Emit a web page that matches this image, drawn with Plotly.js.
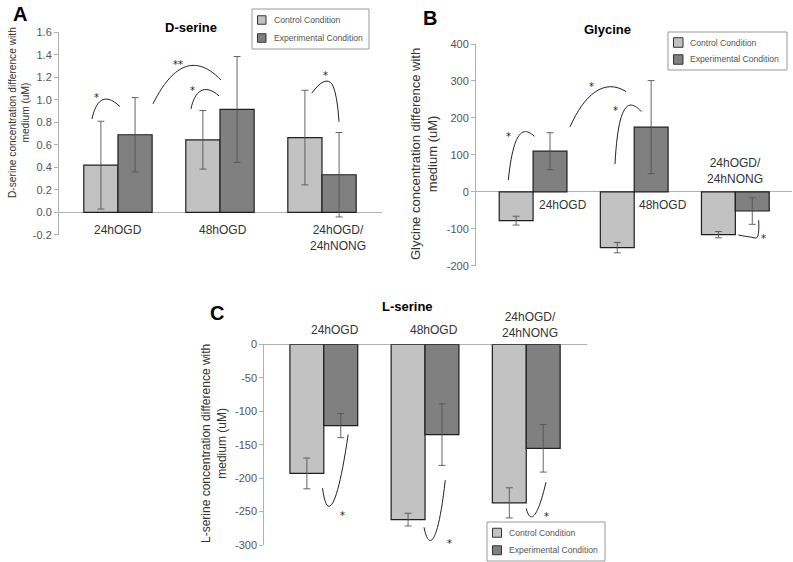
<!DOCTYPE html>
<html>
<head>
<meta charset="utf-8">
<script src="https://cdn.plot.ly/plotly-3.0.1.min.js"></script>
<style>html,body{margin:0;padding:0;background:#fff;}#chart{width:793px;height:562px;}</style>
</head>
<body>
<div id="chart"></div>
<script>
// ---- data ----
const categories = ["24hOGD", "48hOGD", "24hOGD/<br>24hNONG"];
const seriesNames = ["Control Condition", "Experimental Condition"];

// Panel A: D-serine (uM)
const dSerineControl = [0.42, 0.645, 0.665];
const dSerineControlErr = [0.39, 0.26, 0.42];
const dSerineExp = [0.69, 0.915, 0.335];
const dSerineExpErr = [0.33, 0.47, 0.375];
const dTickVals = [-0.2, 0.0, 0.2, 0.4, 0.6, 0.8, 1.0, 1.2, 1.4, 1.6];
const dTickText = ["-0.2", "0.0", "0.2", "0.4", "0.6", "0.8", "1.0", "1.2", "1.4", "1.6"];

// Panel B: Glycine (uM)
const glyControl = [-78, -151, -116];
const glyControlErr = [12, 14, 8.5];
const glyExp = [110, 175, -52];
const glyExpErr = [50, 126, 36];
const gTickVals = [-200, -100, 0, 100, 200, 300, 400];
const gTickText = ["-200", "-100", "0", "100", "200", "300", "400"];

// Panel C: L-serine (uM)
const lSerControl = [-193, -262, -237];
const lSerControlErr = [23, 9.5, 22.5];
const lSerExp = [-121.5, -135, -155.5];
const lSerExpErr = [18, 46, 35.5];
const lTickVals = [-300, -250, -200, -150, -100, -50, 0];
const lTickText = ["-300", "-250", "-200", "-150", "-100", "-50", "0"];

// ---- styles ----
const ctrlColor = "#c2c2c2";
const expColor = "#808080";
const barLine = {color: "#1e1e1e", width: 1.2};
const errStyle = {color: "#555", thickness: 0.9, width: 3.5};
const axisGray = "#b0b0b0";
const font = "Liberation Sans, Arial, sans-serif";
const W = 793, H = 562;

function bar(name, y, err, color, xa, ya) {
  return {
    type: "bar", name: name, x: categories, y: y,
    marker: {color: color, line: barLine},
    error_y: Object.assign({type: "data", array: err, visible: true}, errStyle),
    xaxis: xa, yaxis: ya, showlegend: false, hoverinfo: "skip"
  };
}

const data = [
  bar(seriesNames[0], dSerineControl, dSerineControlErr, ctrlColor, "x", "y"),
  bar(seriesNames[1], dSerineExp, dSerineExpErr, expColor, "x", "y"),
  bar(seriesNames[0], glyControl, glyControlErr, ctrlColor, "x2", "y2"),
  bar(seriesNames[1], glyExp, glyExpErr, expColor, "x2", "y2"),
  bar(seriesNames[0], lSerControl, lSerControlErr, ctrlColor, "x3", "y3"),
  bar(seriesNames[1], lSerExp, lSerExpErr, expColor, "x3", "y3")
];

function xax(domain, range) {
  return {domain: domain, range: range, type: "category", showline: false, showgrid: false,
          zeroline: false, showticklabels: false, ticks: "", fixedrange: true};
}
function yax(domain, range, tv, tt, anchor) {
  return {domain: domain, range: range, anchor: anchor, tickvals: tv, ticktext: tt,
          showline: true, linecolor: axisGray, linewidth: 1, ticks: "outside", ticklen: 4,
          tickcolor: axisGray, showgrid: false, zeroline: true, zerolinecolor: axisGray,
          zerolinewidth: 1, tickfont: {size: 11, color: "#555", family: font}, fixedrange: true};
}

function ann(text, x, y, xref, yref, opts) {
  return Object.assign({text: text, x: x, y: y, xref: xref, yref: yref, showarrow: false,
    xanchor: "center", yanchor: "middle",
    font: {size: 12, color: "#333", family: font}}, opts || {});
}
const starFont = {size: 10, color: "#222", family: "DejaVu Sans, sans-serif"};
const pTitle = {size: 13, color: "#000", family: font};
const pLetter = {size: 20, color: "#000", family: font};

const annotations = [
  // panel letters
  ann("<b>A</b>", 20, 14, "paper", "paper", {font: pLetter}),
  ann("<b>B</b>", 430, 18, "paper", "paper", {font: pLetter}),
  ann("<b>C</b>", 217, 313, "paper", "paper", {font: pLetter}),
  // titles
  ann("<b>D-serine</b>", 191, 28, "paper", "paper", {font: pTitle}),
  ann("<b>Glycine</b>", 607, 29, "paper", "paper", {font: pTitle}),
  ann("<b>L-serine</b>", 407, 306, "paper", "paper", {font: pTitle}),
  // y axis titles
  ann("D-serine concentration difference with<br>medium (uM)", 19, 113, "paper", "paper",
      {textangle: -90, font: {size: 10.2, color: "#333", family: font}}),
  ann("Glycine concentration difference with<br>medium (uM)", 424, 154, "paper", "paper",
      {textangle: -90, font: {size: 13, color: "#333", family: font}}),
  ann("L-serine concentration difference with<br>medium (uM)", 214, 444, "paper", "paper",
      {textangle: -90, font: {size: 12, color: "#333", family: font}}),
  // category labels A
  ann(categories[0], 0, 0, "x", "y", {yanchor: "top", yshift: -9}),
  ann(categories[1], 1.03, 0, "x", "y", {yanchor: "top", yshift: -9}),
  ann(categories[2], 2.16, 0, "x", "y", {yanchor: "top", yshift: -9}),
  // category labels B
  ann(categories[0], 0.04, -36, "x2", "y2", {xanchor: "left"}),
  ann(categories[1], 1.03, -36, "x2", "y2", {xanchor: "left"}),
  ann(categories[2], 2.0, 57, "x2", "y2"),
  // category labels C (above the plot area)
  ann(categories[0], 0.11, 330, "x3", "paper"),
  ann(categories[1], 1.09, 330, "x3", "paper"),
  ann(categories[2], 2.04, 325, "x3", "paper"),
  // significance stars
  ann("*", -0.206, 1.02, "x", "y", {font: starFont}),
  ann("**", 0.588, 1.31, "x", "y", {font: starFont}),
  ann("*", 0.735, 1.08, "x", "y", {font: starFont}),
  ann("*", 2.03, 1.22, "x", "y", {font: starFont}),
  ann("*", -0.245, 150, "x2", "y2", {font: starFont}),
  ann("*", 0.58, 285, "x2", "y2", {font: starFont}),
  ann("*", 0.82, 219, "x2", "y2", {font: starFont}),
  ann("*", 2.28, -127, "x2", "y2", {font: starFont}),
  ann("*", 0.18, -256, "x3", "y3", {font: starFont}),
  ann("*", 1.24, -297, "x3", "y3", {font: starFont}),
  ann("*", 2.2, -258, "x3", "y3", {font: starFont})
];

function curve(path, xr, yr) {
  return {type: "path", path: path, xref: xr, yref: yr, line: {color: "#222", width: 1}};
}
const shapes = [
  curve("M -0.255,0.83 C -0.22,0.98 -0.14,1.08 0.02,0.94", "x", "y"),
  curve("M 0.343,0.964 C 0.5,1.25 0.72,1.45 1.01,1.176", "x", "y"),
  curve("M 0.716,0.92 C 0.75,1.08 0.85,1.15 0.99,1.035", "x", "y"),
  curve("M 1.90,1.06 Q 2.03,1.22 2.1,1.14 Q 2.15,1.05 2.167,0.805", "x", "y"),
  curve("M -0.245,32 C -0.2,150 -0.12,185 0.013,150", "x2", "y2"),
  curve("M 0.366,176 C 0.5,260 0.7,310 0.92,271", "x2", "y2"),
  curve("M 0.81,75 C 0.84,230 0.93,260 1.07,217", "x2", "y2"),
  curve("M 2.23,-77 C 2.24,-110 2.22,-128 2.2,-125 C 2.15,-122 2.08,-120 2.03,-117", "x2", "y2"),
  curve("M -0.013,-215 C 0.03,-265 0.13,-250 0.24,-135", "x3", "y3"),
  curve("M 0.99,-273.5 C 1.03,-305 1.12,-310 1.2,-203", "x3", "y3"),
  curve("M 2.0,-245 C 2.03,-265 2.1,-268 2.195,-206", "x3", "y3")
];

// legend boxes (key for the two series), drawn in page pixels
function addLegend(x0, y0, x1, y1, sw) {
  shapes.push({type: "rect", xref: "paper", yref: "paper", x0: x0, x1: x1, y0: y0, y1: y1,
               line: {color: "#999", width: 1}, fillcolor: "#fff"});
  const colors = [ctrlColor, expColor];
  const step = (y1 - y0) / 2;
  seriesNames.forEach((nm, i) => {
    const cy = y0 + step * (i + 0.5) + (i === 0 ? 1 : -1);
    shapes.push({type: "rect", xref: "paper", yref: "paper",
                 x0: x0 + 5.5, x1: x0 + 5.5 + sw, y0: cy - sw / 2, y1: cy + sw / 2,
                 line: {color: "#333", width: 1}, fillcolor: colors[i]});
    annotations.push(ann(nm, x0 + 19.5, cy, "paper", "paper",
      {xanchor: "left", font: {size: 8.6, color: "#555", family: font}}));
  });
}
addLegend(252, 9, 369, 49, 8.5);
addLegend(668, 32, 787, 70, 9.5);
addLegend(487, 522, 605, 561, 9);

// convert page-pixel paper positions to fractions
annotations.forEach(a => {
  if (a.xref === "paper") { a.x = a.x / W; }
  if (a.yref === "paper") { a.y = 1 - a.y / H; }
});
shapes.forEach(s => {
  if (s.xref === "paper") { s.x0 /= W; s.x1 /= W; }
  if (s.yref === "paper") { s.y0 = 1 - s.y0 / H; s.y1 = 1 - s.y1 / H; }
});

const layout = {
  width: W, height: H, margin: {l: 0, r: 0, t: 0, b: 0},
  paper_bgcolor: "#fff", plot_bgcolor: "rgba(0,0,0,0)",
  font: {family: font, color: "#333"},
  barmode: "group", bargap: 0.33, bargroupgap: 0,
  xaxis: xax([0.0744, 0.4813], [-0.578, 2.585]),
  yaxis: yax([0.5819, 0.9425], [-0.2, 1.6], dTickVals, dTickText, "x"),
  xaxis2: xax([0.6003, 0.9987], [-0.564, 2.56]),
  yaxis2: yax([0.5272, 0.9217], [-200, 400], gTickVals, gTickText, "x2"),
  xaxis3: xax([0.3333, 0.7402], [-0.588, 2.6]),
  yaxis3: yax([0.0302, 0.3874], [-300, 0], lTickVals, lTickText, "x3"),
  annotations: annotations,
  shapes: shapes,
  showlegend: false
};

Plotly.newPlot("chart", data, layout, {staticPlot: true, displayModeBar: false});
</script>
</body>
</html>
